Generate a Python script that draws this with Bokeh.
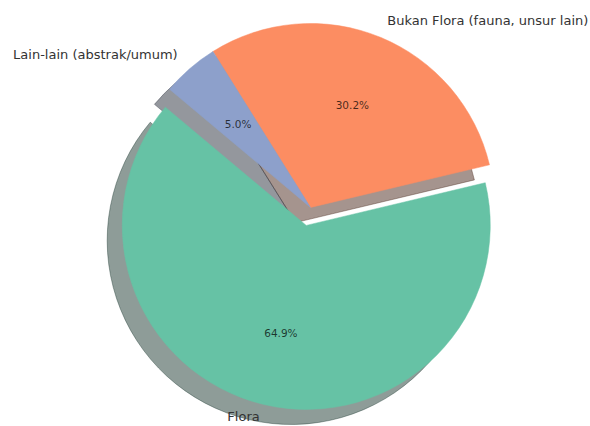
import math
from bokeh.plotting import figure
from bokeh.models import Range1d
from bokeh.core.properties import value
from bokeh.embed import file_html
from bokeh.resources import INLINE

# ---- data ----
labels = ["Flora", "Bukan Flora (fauna, unsur lain)", "Lain-lain (abstrak/umum)"]
values = [64.9, 30.2, 5.0]
colors = ["#66c2a5", "#fc8d62", "#8da0cb"]
explode = [0.1, 0.0, 0.0]
start_angle = 140.0

# ---- layout ----
W, H = 590, 426
PX = 184.0                     # pixels per unit radius
cx_px, cy_px = 310.0, 207.0    # pie centre in canvas pixels (from top-left)
shadow_off = 0.082
label_dist = 1.1
pct_dist = 0.6
FONT = value("DejaVu Sans")

p = figure(width=W, height=H,
           x_range=Range1d(-cx_px / PX, (W - cx_px) / PX),
           y_range=Range1d(-(H - cy_px) / PX, cy_px / PX),
           output_backend="svg", toolbar_location=None,
           min_border=0, min_border_left=0, min_border_right=0,
           min_border_top=0, min_border_bottom=0)
p.axis.visible = False
p.grid.visible = False
p.outline_line_color = None
p.background_fill_color = "white"
p.border_fill_color = "white"

total = float(sum(values))
wedges = []
theta = start_angle
for lab, v, c, e in zip(labels, values, colors, explode):
    t1 = theta
    t2 = theta + 360.0 * v / total
    mid = math.radians((t1 + t2) / 2.0)
    x0 = e * math.cos(mid)
    y0 = e * math.sin(mid)
    wedges.append((lab, v, c, t1, t2, mid, x0, y0))
    theta = t2


def shade(hexcol):
    r = int(hexcol[1:3], 16); g = int(hexcol[3:5], 16); b = int(hexcol[5:7], 16)
    return "#%02x%02x%02x" % (int(0.3 * r), int(0.3 * g), int(0.3 * b))


# shadows first
for lab, v, c, t1, t2, mid, x0, y0 in wedges:
    sc = shade(c)
    p.wedge(x=[x0 - shadow_off], y=[y0 - shadow_off], radius=1.0,
            start_angle=math.radians(t1), end_angle=math.radians(t2),
            direction="anticlock",
            fill_color=sc, fill_alpha=0.5, line_color=sc, line_alpha=0.4,
            line_width=1)

# wedges
for lab, v, c, t1, t2, mid, x0, y0 in wedges:
    p.wedge(x=[x0], y=[y0], radius=1.0,
            start_angle=math.radians(t1), end_angle=math.radians(t2),
            direction="anticlock",
            fill_color=c, line_color=c, line_width=0.5)

# labels and percentages
ymin = -(H - cy_px) / PX
for lab, v, c, t1, t2, mid, x0, y0 in wedges:
    lx = x0 + label_dist * math.cos(mid)
    ly = y0 + label_dist * math.sin(mid)
    ly = max(ly, ymin + 10.0 / PX)   # keep the bottom label inside the canvas
    p.text(x=[lx], y=[ly], text=[lab],
           text_align="right" if lx < 0 else "left",
           text_baseline="middle", text_font=FONT,
           text_font_size="13px", text_color="#333333")
    px_ = x0 + pct_dist * math.cos(mid)
    py_ = y0 + pct_dist * math.sin(mid)
    p.text(x=[px_], y=[py_], text=["%.1f%%" % v],
           text_align="center", text_baseline="middle", text_font=FONT,
           text_font_size="10.5px", text_color="#000000", text_alpha=0.72)

open("out.html", "w").write(file_html(p, INLINE))
